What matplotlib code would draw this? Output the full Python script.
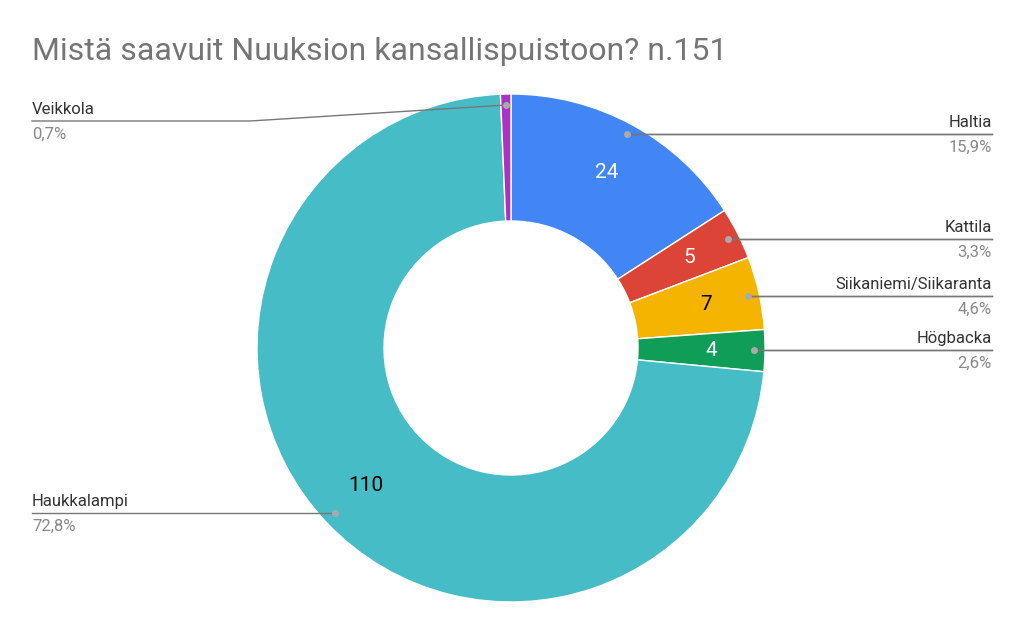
import numpy as np
import matplotlib.pyplot as plt

plt.rcParams['font.family'] = ['Roboto', 'DejaVu Sans']

labels = ["Haltia", "Kattila", "Siikaniemi/Siikaranta", "Högbacka", "Haukkalampi", "Veikkola"]
values = [24, 5, 7, 4, 110, 1]
colors = ["#4285F4", "#DB4437", "#F4B400", "#0F9D58", "#46BDC6", "#AB30C4"]
value_colors = ["white", "white", "black", "white", "black", None]
# label line y (pixels from top) and side
label_y = [134, 239, 296, 350, 513, 121]
label_side = ["right", "right", "right", "right", "left", "left"]

W, H = 1024, 633
fig = plt.figure(figsize=(W / 100, H / 100), dpi=100)
ax = fig.add_axes([0, 0, 1, 1])
ax.set_xlim(0, W)
ax.set_ylim(0, H)
ax.axis("off")

cx, cy, R = 511, H - 348, 254
ax.pie(values, colors=colors, startangle=90, counterclock=False,
       center=(cx, cy), radius=R,
       wedgeprops=dict(width=R * 0.5, edgecolor="white", linewidth=1))
ax.set_xlim(0, W)
ax.set_ylim(0, H)
ax.set_aspect("equal")

total = sum(values)
cum = 0
for i, v in enumerate(values):
    mid = (cum + v / 2) / total * 2 * np.pi
    cum += v
    sx, sy = np.sin(mid), np.cos(mid)
    # inside value
    if value_colors[i]:
        ax.text(cx + 200 * sx, cy + 200 * sy, str(v), color=value_colors[i],
                fontsize=15, ha="center", va="center")
    # callout
    dx, dy = cx + 243 * sx, cy + 243 * sy
    ly = H - label_y[i]
    pct = f"{v / total * 100:.1f}".replace(".", ",") + "%"
    if label_side[i] == "right":
        ax.plot([dx, 992], [ly, ly] if abs(dy - ly) < 3 else [dy, ly], color="#777777", lw=1)
        ax.plot([dx, 992], [ly, ly], color="#777777", lw=1)
        ax.text(992, ly + 4, labels[i], ha="right", va="bottom", fontsize=12, color="#333333")
        ax.text(992, ly - 6, pct, ha="right", va="top", fontsize=12, color="#888888")
    else:
        if i == 5:
            ax.plot([dx, 250, 32], [dy, ly, ly], color="#777777", lw=1)
        else:
            ax.plot([dx, 32], [ly, ly], color="#777777", lw=1)
        ax.text(32, ly + 4, labels[i], ha="left", va="bottom", fontsize=12, color="#333333")
        ax.text(32, ly - 6, pct, ha="left", va="top", fontsize=12, color="#888888")
    ax.plot(dx, dy if i == 5 else ly, "o", color="#aaaaaa", ms=4)

ax.text(32, H - 52, "Mistä saavuit Nuuksion kansallispuistoon? n.151",
        fontsize=23, color="#757575", ha="left", va="center")

fig.savefig("out.png", dpi=100)
